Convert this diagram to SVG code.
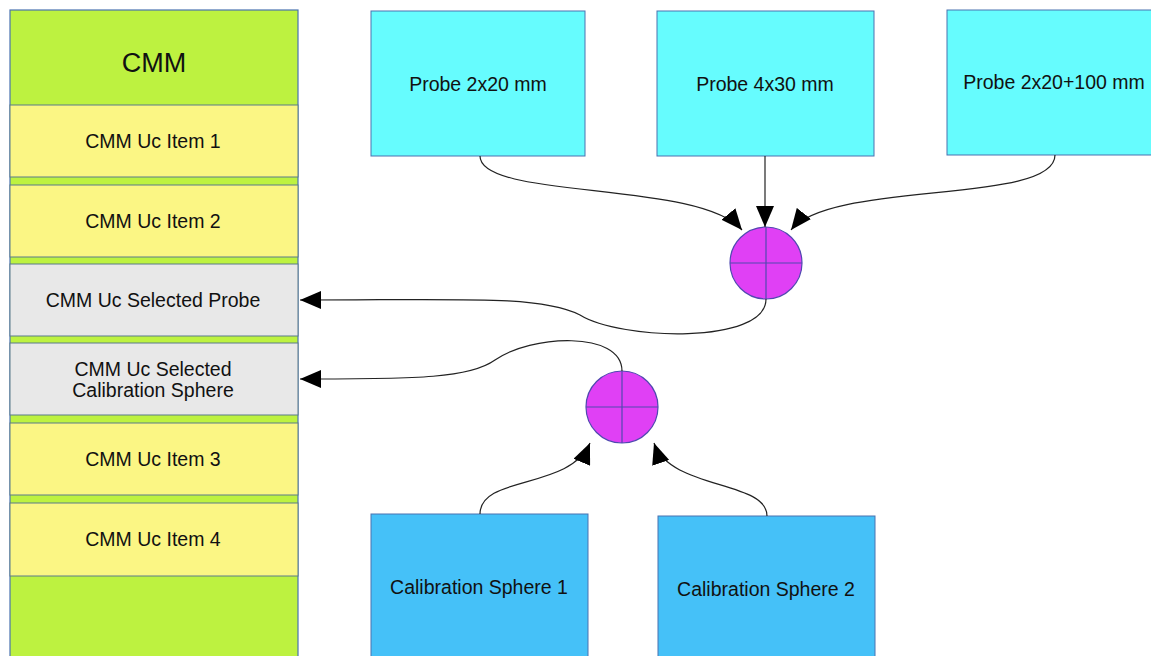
<svg xmlns="http://www.w3.org/2000/svg" width="1151" height="656" viewBox="0 0 1151 656">
<style>
text{font-family:"Liberation Sans",Arial,sans-serif;fill:#111;text-anchor:middle;dominant-baseline:central}
.item{font-size:19.5px}
.yel{fill:#fbf684;stroke:#5a7a8a;stroke-width:1}
.gray{fill:#e8e8e8;stroke:#5a7a8a;stroke-width:1}
.probe{fill:#66fcfe;stroke:#4a72b0;stroke-width:1}
.cal{fill:#45c1f8;stroke:#4a72b0;stroke-width:1}
.junc{fill:#e040f5;stroke:#5048b0;stroke-width:1.2}
.jl{stroke:#5048b0;stroke-width:1.2}
.conn path{fill:none;stroke:#222;stroke-width:1.2;marker-end:url(#arr)}
</style>
<defs>
<marker id="arr" viewBox="0 0 21 18" refX="21" refY="9" markerWidth="21" markerHeight="18" markerUnits="userSpaceOnUse" orient="auto">
<path d="M0,0 L21,9 L0,18 Z" fill="#000"/>
</marker>
</defs>
<rect width="1151" height="656" fill="#fff"/>
<g id="cmm">
<rect x="10" y="10" width="288" height="660" fill="#bdf240" stroke="#4a72b0" stroke-width="1.2"/>
<text x="154" y="63" font-size="27px">CMM</text>
</g>
<g id="item1"><rect class="yel" x="10" y="105" width="288" height="72"/><text class="item" x="153" y="141">CMM Uc Item 1</text></g>
<g id="item2"><rect class="yel" x="10" y="185" width="288" height="72"/><text class="item" x="153" y="221">CMM Uc Item 2</text></g>
<g id="selprobe"><rect class="gray" x="10" y="264" width="288" height="72"/><text class="item" x="153" y="300">CMM Uc Selected Probe</text></g>
<g id="selcal"><rect class="gray" x="10" y="343" width="288" height="72"/><text class="item" x="153" y="369">CMM Uc Selected</text><text class="item" x="153" y="390">Calibration Sphere</text></g>
<g id="item3"><rect class="yel" x="10" y="423" width="288" height="72"/><text class="item" x="153" y="459">CMM Uc Item 3</text></g>
<g id="item4"><rect class="yel" x="10" y="503" width="288" height="73"/><text class="item" x="153" y="539">CMM Uc Item 4</text></g>

<g id="probe1"><rect class="probe" x="371" y="11" width="214" height="145"/><text class="item" x="478" y="84">Probe 2x20 mm</text></g>
<g id="probe2"><rect class="probe" x="657" y="11" width="217" height="145"/><text class="item" x="765" y="84">Probe 4x30 mm</text></g>
<g id="probe3"><rect class="probe" x="947" y="10" width="210" height="145"/><text class="item" x="1054" y="82">Probe 2x20+100 mm</text></g>

<g id="cal1"><rect class="cal" x="371" y="514" width="217" height="150"/><text class="item" x="479" y="587">Calibration Sphere 1</text></g>
<g id="cal2"><rect class="cal" x="658" y="516" width="217" height="150"/><text class="item" x="766" y="589">Calibration Sphere 2</text></g>

<g id="junction1"><circle class="junc" cx="766" cy="263" r="36"/><line class="jl" x1="730" y1="263" x2="802" y2="263"/><line class="jl" x1="766" y1="227" x2="766" y2="299"/></g>
<g id="junction2"><circle class="junc" cx="622" cy="407" r="36"/><line class="jl" x1="586" y1="407" x2="658" y2="407"/><line class="jl" x1="622" y1="371" x2="622" y2="443"/></g>

<g class="conn" id="connectors">
<path d="M480,156 C480,200 700,180 742,230"/>
<path d="M765,156 L765,227"/>
<path d="M1055,155 C1055,205 830,180 791,230"/>
<path d="M766,299 C766,345 620,340 580,315 C540,295 460,300 300,300"/>
<path d="M622,371 C622,330 530,335 495,360 C470,378 420,379 300,379"/>
<path d="M480,514 C480,475 570,490 590,443"/>
<path d="M767,516 C767,480 670,490 654,443"/>
</g>
</svg>
